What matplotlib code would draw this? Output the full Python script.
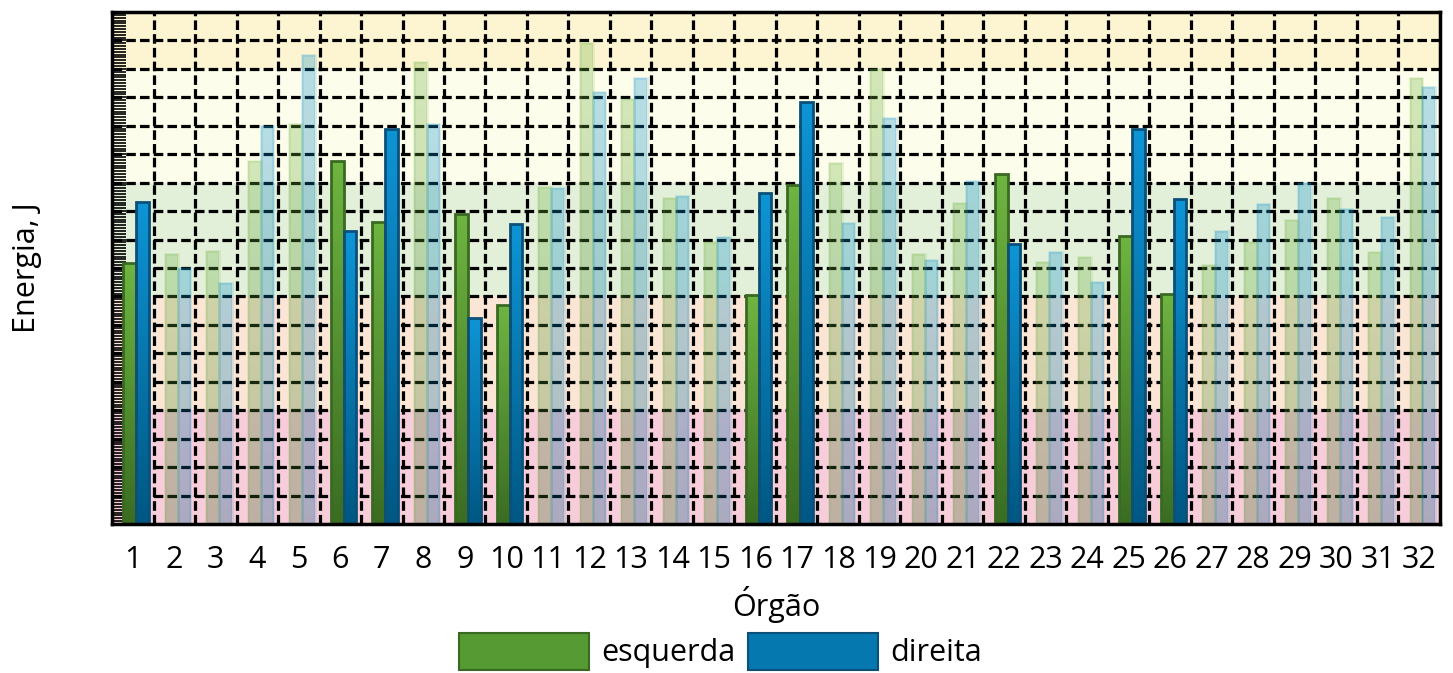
import numpy as np
import matplotlib.pyplot as plt
from matplotlib.patches import Patch
from matplotlib.colors import LinearSegmentedColormap

plt.rcParams['font.family'] = ['Open Sans', 'DejaVu Sans']

orgaos = [str(i) for i in range(1, 33)]
esquerda = [9.19, 9.49, 9.6, 12.76, 14.06, 12.76, 10.62, 16.24, 10.9, 7.7,
            11.85, 16.9, 14.94, 11.46, 9.92, 8.05, 11.92, 12.69, 16.0, 9.49,
            11.29, 12.3, 9.2, 9.4, 10.13, 8.08, 9.1, 9.9, 10.69, 11.46,
            9.56, 15.68]
direita = [11.33, 9.0, 8.47, 14.0, 16.5, 10.3, 13.89, 14.06, 7.24, 10.55,
           11.81, 15.19, 15.68, 11.53, 10.09, 11.64, 14.84, 10.58, 14.28, 9.28,
           12.06, 9.85, 9.57, 8.5, 13.88, 11.43, 10.3, 11.25, 12.0, 11.08,
           10.79, 15.37]
destaque = [1, 6, 7, 9, 10, 16, 17, 22, 25, 26]

# faixas de fundo (limite inferior, superior, cor)
faixas = [(0, 4, '#f6cdd9'), (4, 8, '#fbe6d6'), (8, 12, '#e2efd9'),
          (12, 16, '#fdfdeb'), (16, 18, '#fdf4d2')]

cmap_verde = LinearSegmentedColormap.from_list('v', ['#3a6c22', '#6fb541'])
cmap_azul = LinearSegmentedColormap.from_list('a', ['#005783', '#0e95d6'])

fig = plt.figure(figsize=(14.53, 6.73), dpi=100)
ax = fig.add_axes([0.0771, 0.2214, 0.9139, 0.7608])

for lo, hi, cor in faixas:
    ax.axhspan(lo, hi, color=cor, zorder=0, lw=0)

x = np.arange(1, 33)
w = 0.31
desloc = 0.08


def barras(xs, vals, cmap, borda):
    bars = ax.bar(xs, vals, width=w, facecolor='none', edgecolor=borda, lw=2, zorder=3)
    grad = np.linspace(0, 1, 256).reshape(-1, 1)
    for i, b in enumerate(bars):
        ativo = (i + 1) in destaque
        alpha = 1.0 if ativo else 0.3
        x0, y0 = b.get_x(), b.get_y()
        im = ax.imshow(grad, cmap=cmap, origin='lower', aspect='auto',
                       extent=[x0, x0 + b.get_width(), y0, y0 + b.get_height()],
                       zorder=2.5, alpha=alpha)
        im.set_clip_path(b)
        if not ativo:
            b.set_edgecolor(cmap(0.9))
            b.set_alpha(0.15)


barras(x + desloc - w / 2, esquerda, cmap_verde, '#3a6a22')
barras(x + desloc + w / 2, direita, cmap_azul, '#0b5078')

ax.set_xlim(0.5, 32.5)
ax.set_ylim(0, 18)
ax.set_xticks(x)
ax.set_xticklabels(orgaos, fontsize=22)
ax.set_xticks(np.arange(1.5, 32.5, 1), minor=True)
ax.set_yticks(np.arange(1, 18, 1))
ax.set_yticks(np.arange(0, 18, 0.1), minor=True)
ax.set_yticklabels([])
ax.tick_params(axis='x', which='both', length=0, pad=15)
ax.tick_params(axis='y', which='both', direction='in', length=10, width=1.2, left=True, right=False)

ax.set_axisbelow('line')
ax.grid(True, axis='y', which='major', color='black', ls=(0, (3, 1.3)), lw=2.3)
ax.grid(True, axis='x', which='minor', color='black', ls=(0, (3, 1.3)), lw=2.3)

for s in ax.spines.values():
    s.set_linewidth(2.5)
    s.set_zorder(5)

ax.set_xlabel('Órgão', fontsize=22, labelpad=8)
ax.set_ylabel('Energia, J', fontsize=22, labelpad=47)

handles = [Patch(facecolor='#569a33', edgecolor='#3a6a22', lw=1.5, label='esquerda'),
           Patch(facecolor='#0678b0', edgecolor='#0b5078', lw=1.5, label='direita')]
fig.legend(handles=handles, loc='upper center', bbox_to_anchor=(0.496, 0.06),
           ncol=2, frameon=False, fontsize=22, handlelength=4.25, handleheight=1.5,
           handletextpad=0.4, columnspacing=0.4, borderaxespad=0, borderpad=0)

fig.savefig('out.png', dpi=100)
